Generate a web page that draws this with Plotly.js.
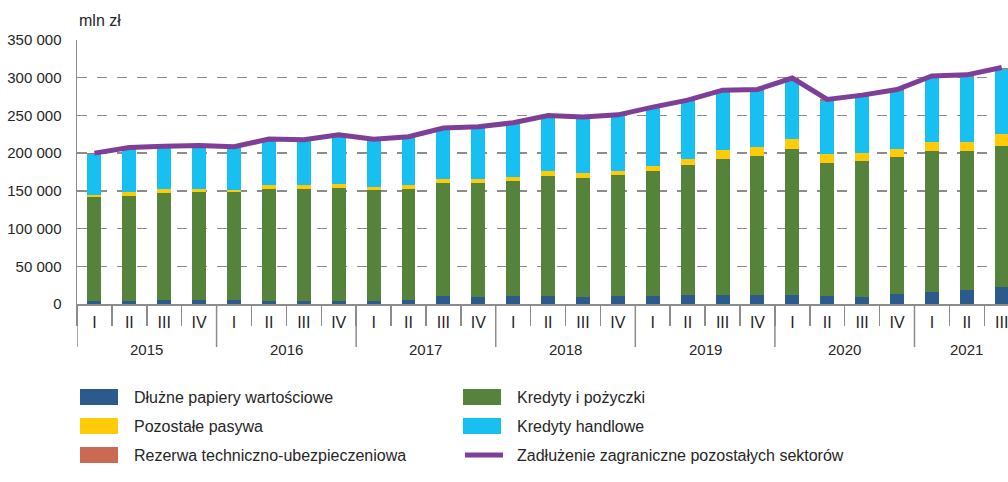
<!DOCTYPE html>
<html>
<head>
<meta charset="utf-8">
<script src="https://cdn.plot.ly/plotly-3.0.1.min.js"></script>
<style>html,body{margin:0;padding:0;background:#fff;overflow:hidden}#chart{width:1008px;height:482px}</style>
</head>
<body>
<div id="chart"></div>
<script>
// ---- data (mln zł) ----
const years = ['2015','2016','2017','2018','2019','2020','2021'];
const quarterLabels = ['I','II','III','IV'];
const quartersPerYear = [4,4,4,4,4,4,3];

const dluzne     = [3500,3500,4800,4800,4800,3500,3500,4000,3500,4800,10000,9300,10000,10000,9300,10000,10000,11400,11400,11400,11400,10000,9500,13200,15300,18500,22000];
const kredyty    = [138100,140200,142900,144200,143400,149000,148600,150300,148100,147700,150500,151200,153500,159700,157800,161000,166300,172900,181200,184800,194500,177300,180500,182100,187500,184700,187400];
const pozostale  = [3400,5300,4800,3000,3300,4900,5300,4900,3900,4900,5300,5300,4900,6300,6600,5000,6700,8300,11500,11500,12800,11900,10600,10200,12300,11900,15900];
const handlowe   = [54000,57500,55500,57000,56000,60300,59400,64200,61800,63300,66400,68200,70900,73000,73100,73800,76500,76200,77900,75200,79300,70000,74300,76700,85000,86400,85700];
const rezerwa    = [1000,1000,1000,1000,1000,1000,1000,1000,1000,1000,1000,1000,1000,1000,1000,1000,1500,1500,1500,1500,1500,2000,2000,2200,2300,2300,2500];
const zadluzenie = [200000,207500,209000,210000,208500,218700,217800,224400,218300,221700,233200,235000,240300,250000,247800,250800,261000,270300,283500,284400,299500,271200,276900,284400,302400,303800,313500];

const seriesNames = {
  dluzne: 'Dłużne papiery wartościowe',
  pozostale: 'Pozostałe pasywa',
  rezerwa: 'Rezerwa techniczno-ubezpieczeniowa',
  kredyty: 'Kredyty i pożyczki',
  handlowe: 'Kredyty handlowe',
  zadluzenie: 'Zadłużenie zagraniczne pozostałych sektorów'
};
const seriesData = {dluzne, kredyty, pozostale, handlowe, rezerwa, zadluzenie};
const yAxisLabel = 'mln zł';

// ---- build categories ----
const xCats = [], xText = [], yearStart = [];
years.forEach((y, yi) => {
  yearStart.push(xCats.length);
  for (let q = 0; q < quartersPerYear[yi]; q++) {
    xCats.push(y + ' ' + quarterLabels[q]);
    xText.push(quarterLabels[q]);
  }
});

const colors = {
  dluzne: '#2B5A8D', kredyty: '#56833B', pozostale: '#FFCA08',
  handlowe: '#17C0F0', rezerwa: '#CB6A52', zadluzenie: '#7D3F98'
};

const FONT = 'Liberation Sans, Arial, sans-serif';
const TXT = '#262626';
const GRID = '#8C8C8C';

const W = 1008, H = 482, ML = 77, MR = 0, MT = 40, MB = 178;
const px = x => (x - ML) / (W - ML - MR);
const py = y => (H - MB - y) / (H - MT - MB);

function bar(key) {
  return {
    type: 'bar', x: xCats, y: seriesData[key], name: seriesNames[key],
    marker: {color: colors[key], line: {width: 0}}, width: 0.4,
    showlegend: false, hoverinfo: 'y+name'
  };
}

const traces = [
  bar('dluzne'), bar('kredyty'), bar('pozostale'), bar('handlowe'), bar('rezerwa'),
  {
    type: 'scatter', mode: 'lines', x: xCats, y: zadluzenie, name: seriesNames.zadluzenie,
    line: {color: colors.zadluzenie, width: 5}, showlegend: false
  }
];

const shapes = [], annotations = [];

// year dividers
yearStart.forEach(s => {
  shapes.push({type: 'line', xref: 'x', yref: 'paper', x0: s - 0.5, x1: s - 0.5,
    y0: 0, y1: py(347), line: {color: GRID, width: 1.5}});
});
// year labels
years.forEach((y, yi) => {
  const c = yearStart[yi] + (quartersPerYear[yi] - 1) / 2;
  annotations.push({xref: 'x', yref: 'paper', x: c, y: py(349.5), text: y,
    showarrow: false, xanchor: 'center', yanchor: 'middle',
    font: {family: FONT, size: 15, color: TXT}});
});
// y unit label
annotations.push({xref: 'paper', yref: 'paper', x: px(77), y: py(21), text: yAxisLabel,
  showarrow: false, xanchor: 'left', yanchor: 'middle', font: {family: FONT, size: 16, color: TXT}});

// custom legend
const legendItems = [
  {key: 'dluzne', col: 0, row: 0, kind: 'box'},
  {key: 'pozostale', col: 0, row: 1, kind: 'box'},
  {key: 'rezerwa', col: 0, row: 2, kind: 'box'},
  {key: 'kredyty', col: 1, row: 0, kind: 'box'},
  {key: 'handlowe', col: 1, row: 1, kind: 'box'},
  {key: 'zadluzenie', col: 1, row: 2, kind: 'line'}
];
const colX = [80, 463], rowY = [397, 426, 455];
legendItems.forEach(it => {
  const x0 = colX[it.col], yc = rowY[it.row];
  if (it.kind === 'box') {
    shapes.push({type: 'rect', xref: 'paper', yref: 'paper',
      x0: px(x0), x1: px(x0 + 38), y0: py(yc + 8), y1: py(yc - 8),
      fillcolor: colors[it.key], line: {width: 0}});
  } else {
    shapes.push({type: 'line', xref: 'paper', yref: 'paper',
      x0: px(x0 + 2), x1: px(x0 + 40), y0: py(yc), y1: py(yc),
      line: {color: colors[it.key], width: 5}});
  }
  annotations.push({xref: 'paper', yref: 'paper', x: px(x0 + 52), y: py(yc),
    text: seriesNames[it.key], showarrow: false, xanchor: 'left', yanchor: 'middle',
    font: {family: FONT, size: 16, color: TXT}});
});

const layout = {
  width: W, height: H,
  margin: {l: ML, r: MR, t: MT, b: MB, pad: 0},
  barmode: 'stack',
  separators: ', ',
  paper_bgcolor: '#fff', plot_bgcolor: '#fff',
  font: {family: FONT, size: 16, color: TXT},
  showlegend: false,
  xaxis: {
    type: 'category', range: [-0.5, 26.18],
    tickmode: 'array', tickvals: xCats, ticktext: xText,
    ticks: 'outside', tickson: 'boundaries', ticklen: 20, tickwidth: 1.5, tickcolor: GRID,
    ticklabelstandoff: 3,
    showline: true, linecolor: GRID, linewidth: 1.5,
    showgrid: false, zeroline: false,
    tickfont: {family: FONT, size: 16, color: TXT}
  },
  yaxis: {
    range: [0, 350000], tickmode: 'linear', tick0: 0, dtick: 50000,
    tickformat: ',.0f',
    showgrid: true, gridcolor: GRID, gridwidth: 1.5, griddash: '10px,10px',
    showline: true, linecolor: GRID, linewidth: 1.5, zeroline: false,
    ticks: '', ticklabelstandoff: 11,
    tickfont: {family: FONT, size: 15, color: TXT}
  },
  shapes: shapes, annotations: annotations
};

Plotly.newPlot('chart', traces, layout, {displayModeBar: false, staticPlot: true});
</script>
</body>
</html>
